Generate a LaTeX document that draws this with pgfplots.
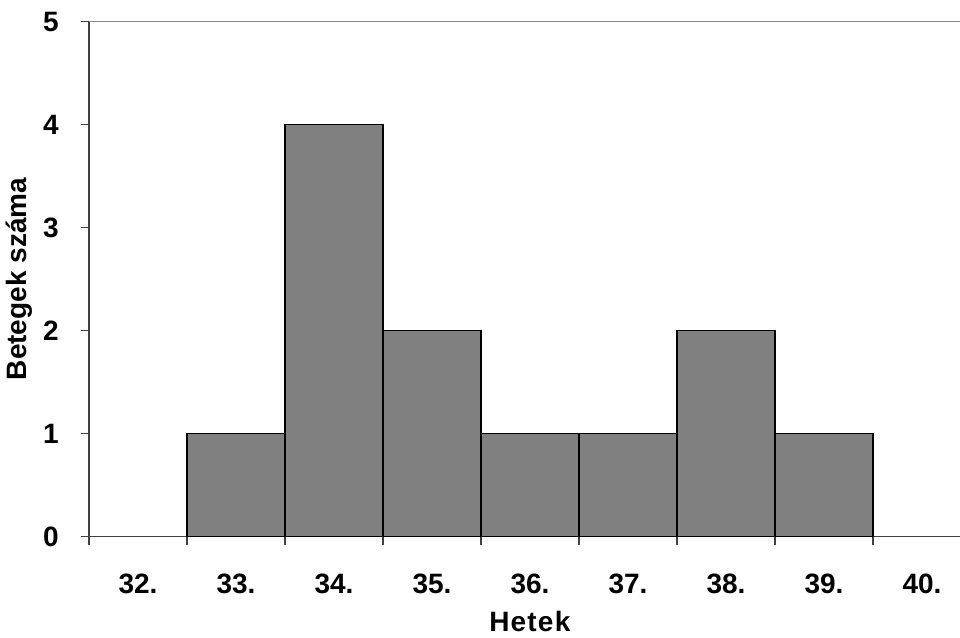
\documentclass[border=0pt]{standalone}
\usepackage{fontspec}
\setmainfont{Liberation Sans}
\usepackage{pgfplots}
\pgfplotsset{compat=1.18}
\definecolor{barfill}{HTML}{808080}
\definecolor{axisdark}{HTML}{404040}
\definecolor{frame}{HTML}{8A8A8A}
\newcommand{\chartfont}{\bfseries\fontsize{21}{25}\selectfont}

\begin{document}
\begin{tikzpicture}
  % 1 px of the reference = 0.75pt
  \begin{axis}[
    scale only axis,
    width=661.5pt, height=386.25pt,
    xmin=31.5, xmax=40.5, ymin=0, ymax=5,
    axis x line*=bottom, axis y line*=left,
    axis line style={axisdark, line width=1pt},
    tick align=outside,
    major tick length=6pt,
    tick style={axisdark, line width=0.8pt},
    xtick={31.5,32.5,...,40.5},
    x tick label as interval,
    xticklabels={32.,33.,34.,35.,36.,37.,38.,39.,40.},
    ytick={0,1,2,3,4,5},
    tick label style={font=\chartfont},
    label style={font=\chartfont},
    /pgf/number format/assume math mode=true,
    xticklabel style={anchor=north, inner sep=0pt, yshift=-22pt},
    yticklabel style={anchor=east, inner sep=0pt, xshift=-16.5pt},
    xlabel={H\kern0.8pt e\kern0.8pt t\kern0.8pt e\kern1.2pt k},
    ylabel={Betegek száma},
    xlabel style={at={([yshift=-56pt]axis description cs:0.5,0)}, anchor=north, inner sep=0pt},
    ylabel style={at={([xshift=-42pt]axis description cs:0,0.5)}, anchor=south, inner sep=0pt},
    ybar, bar width=1,
  ]
    \addplot[fill=barfill, draw=black, line width=1.3pt]
      coordinates {(33,1) (34,4) (35,2) (36,1) (37,1) (38,2) (39,1)};
    \draw[frame, line width=1.4pt] (rel axis cs:0,1) -- (rel axis cs:1,1) -- (rel axis cs:1,0);
  \end{axis}
  \pgfresetboundingbox
  \useasboundingbox (-66.75pt,-75.375pt) rectangle (653.25pt,402.375pt);
\end{tikzpicture}
\end{document}
